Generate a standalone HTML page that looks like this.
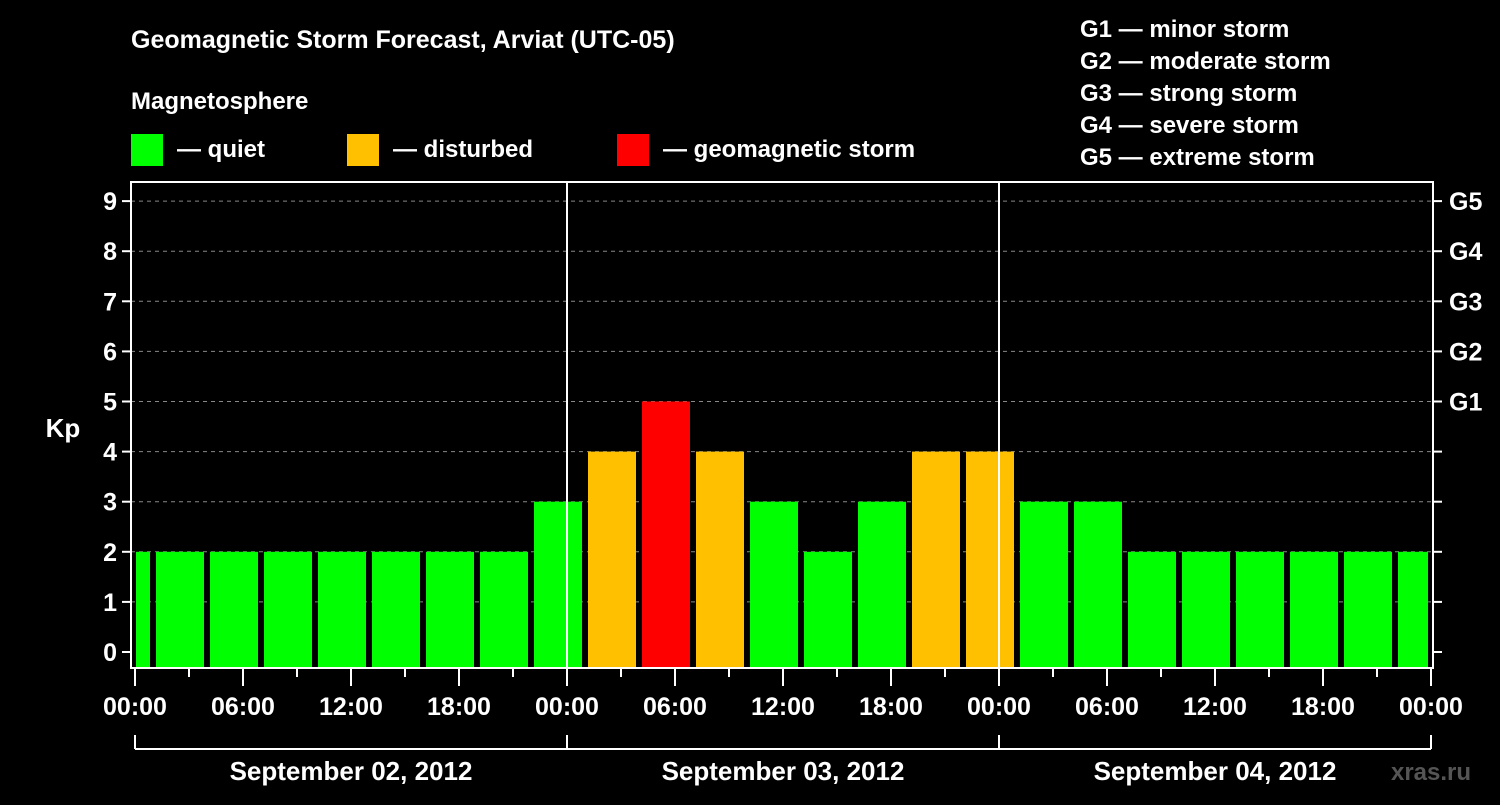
<!DOCTYPE html>
<html><head><meta charset="utf-8"><style>
body{margin:0;background:#000;width:1500px;height:800px;overflow:hidden}
svg{font-family:"Liberation Sans",Arial,sans-serif;font-weight:bold;fill:#fff}
</style></head><body>
<svg id="c" width="1500" height="800" viewBox="0 0 1500 800">
<text x="131" y="48" font-size="25" fill="#fff">Geomagnetic Storm Forecast, Arviat (UTC-05)</text>
<text x="131" y="109" font-size="24" fill="#fff">Magnetosphere</text>
<g><rect x="131" y="134" width="32" height="32" fill="#00ff00"/><text x="177" y="157" font-size="24" fill="#fff">— quiet</text></g>
<g><rect x="347" y="134" width="32" height="32" fill="#ffc000"/><text x="393" y="157" font-size="24" fill="#fff">— disturbed</text></g>
<g><rect x="617" y="134" width="32" height="32" fill="#ff0000"/><text x="663" y="157" font-size="24" fill="#fff">— geomagnetic storm</text></g>
<g font-size="24" fill="#fff">
<text x="1080" y="37">G1 — minor storm</text><text x="1080" y="69">G2 — moderate storm</text><text x="1080" y="101">G3 — strong storm</text><text x="1080" y="133">G4 — severe storm</text><text x="1080" y="165">G5 — extreme storm</text>
</g>
<text x="63" y="437" font-size="26" fill="#fff" text-anchor="middle">Kp</text>
<text x="1431" y="780" font-size="24" fill="#555" text-anchor="middle">xras.ru</text>
<g id="plot"></g>
</svg>
<script>
const kpValues=[2,2,2,2,2,2,2,2,3,4,5,4,3,2,3,4,4,3,3,2,2,2,2,2,2];
const yTicks=[0,1,2,3,4,5,6,7,8,9];
const gLabels=["G1","G2","G3","G4","G5"];
const gLevels=[5,6,7,8,9];
const xTickLabels=["00:00","06:00","12:00","18:00","00:00","06:00","12:00","18:00","00:00","06:00","12:00","18:00","00:00"];
const dayLabels=["September 02, 2012","September 03, 2012","September 04, 2012"];
const NS="http://www.w3.org/2000/svg";
const L=131,R=1433,T=182,B=668,X0=135,PXH=18;
const xs=h=>X0+h*PXH;
const ys=v=>652-v*50.1;
const g=document.getElementById('plot');
function mk(t,a,p){const e=document.createElementNS(NS,t);for(const k in a)e.setAttribute(k,a[k]);(p||g).appendChild(e);return e;}
yTicks.forEach(v=>{
 if(v>0){const l=mk('line',{x1:L,x2:R,y1:ys(v),y2:ys(v),stroke:'#888','stroke-dasharray':'4,4','stroke-width':1});
 
 }
 mk('line',{x1:L-9,x2:L,y1:ys(v),y2:ys(v),stroke:'#fff','stroke-width':2});
 mk('line',{x1:R,x2:R+9,y1:ys(v),y2:ys(v),stroke:'#fff','stroke-width':2});
 const t=mk('text',{x:L-14,y:ys(v)+9,'font-size':25,'text-anchor':'end',fill:'#fff'});t.textContent=v;
 
 
});
gLabels.forEach((s,i)=>{const t=mk('text',{x:R+16,y:ys(gLevels[i])+9,'font-size':25,fill:'#fff'});t.textContent=s;
 
 });
kpValues.forEach((v,i)=>{
 const c=xs(-0.5+3*i);let x1=c-24,x2=c+24;
 x1=Math.max(x1,136);x2=Math.min(x2,1428);
 const col=v>=5?'#ff0000':v>=4?'#ffc000':'#00ff00';
 const r=mk('rect',{x:x1,y:ys(v),width:x2-x1,height:B-ys(v),fill:col});
 
 
});
mk('rect',{x:L,y:T,width:R-L,height:B-T,fill:'none',stroke:'#fff','stroke-width':2});
[24,48].forEach(h=>mk('line',{x1:xs(h),x2:xs(h),y1:T,y2:B,stroke:'#fff','stroke-width':2}));
for(let h=0;h<=72;h+=3){const maj=h%6===0;mk('line',{x1:xs(h),x2:xs(h),y1:B,y2:B+(maj?18:9),stroke:'#fff','stroke-width':2});}
xTickLabels.forEach((s,i)=>{const t=mk('text',{x:xs(i*6),y:715,'font-size':25,'text-anchor':'middle',fill:'#fff'});t.textContent=s;
 
 });
mk('line',{x1:xs(0),x2:xs(72),y1:749,y2:749,stroke:'#fff','stroke-width':2});
[0,24,48,72].forEach(h=>mk('line',{x1:xs(h),x2:xs(h),y1:735,y2:749,stroke:'#fff','stroke-width':2}));
dayLabels.forEach((s,i)=>{const t=mk('text',{x:xs(12+24*i),y:780,'font-size':26,'text-anchor':'middle',fill:'#fff'});t.textContent=s;
 
 });
</script>
</body></html>
